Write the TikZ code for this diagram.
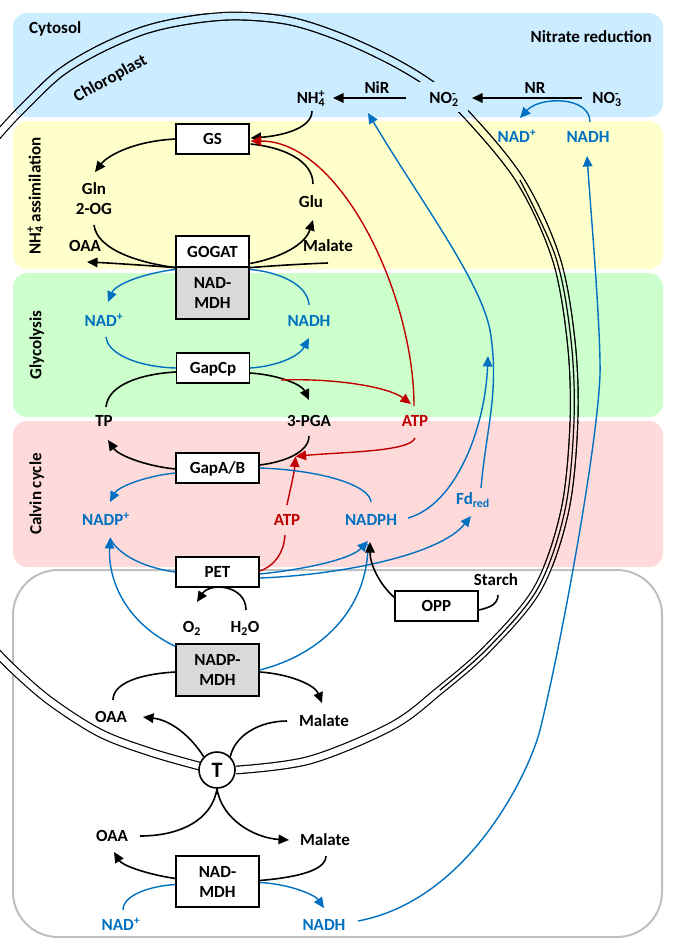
\documentclass[tikz,border=0pt]{standalone}
\usepackage{fontspec}
\setmainfont{Carlito}
\usetikzlibrary{arrows.meta,calc}
\definecolor{cytbg}{HTML}{CCECFF}
\definecolor{yelbg}{HTML}{FFFFCC}
\definecolor{grnbg}{HTML}{CCFFCC}
\definecolor{pnkbg}{HTML}{FFDADA}
\definecolor{lblue}{HTML}{0070C0}
\definecolor{lred}{HTML}{C00000}
\definecolor{boxgray}{HTML}{D9D9D9}
\definecolor{framegray}{HTML}{BFBFBF}
\newcommand\ssp[2]{\makebox[0pt][l]{\textsuperscript{#2}}\textsubscript{#1}}
\newcommand\envelope[1]{%
  \draw[env,double=#1] plot[smooth,tension=0.55] coordinates {(-15,150) (5,127) (25,106) (60,73) (100,49) (145,30) (190,20) (237,16) (290,21) (340,37) (390,60) (430,84) (465,113) (520,180) (556,258) (571,340) (574,420) (565,510) (538,588) (488,648) (440,690) (392,726) (310,760) (236,770)};
  \draw[env,double=#1] plot[smooth,tension=0.55] coordinates {(199,766) (150,752) (100,733) (50,701) (12,668) (-15,640)};}
\tikzset{
  lbl/.style={inner sep=0pt, text height=11pt, text depth=0pt},
  bl/.style={text=lblue},
  rd/.style={text=lred},
  box/.style={draw, line width=1.2pt, fill=white, minimum width=73pt, minimum height=30pt, inner sep=0pt, text height=11pt, text depth=0pt},
  wide/.style={minimum width=83pt},
  box2/.style={draw, line width=1.2pt, fill=boxgray, minimum width=73pt, minimum height=52pt, inner sep=0pt, align=center},
  con/.style={line width=1.6pt, black},
  arr/.style={con, -{Triangle[length=10.5pt,width=9.5pt]}},
  bcon/.style={line width=1.4pt, lblue},
  barr/.style={bcon, -{Triangle[length=10.5pt,width=9.5pt]}},
  rcon/.style={line width=1.4pt, lred},
  rarr/.style={rcon, -{Triangle[length=10.5pt,width=9.5pt]}},
  env/.style={draw=black, line width=1.2pt, double distance=6.4pt},
  tnode/.style={circle, draw, line width=1.6pt, fill=white, minimum size=36pt, inner sep=0pt, font=\fontsize{22}{24}\selectfont\bfseries}
}
\begin{document}
\begin{tikzpicture}[x=1pt,y=-1pt,font=\fontsize{17}{20}\selectfont\bfseries]
\useasboundingbox (0,0) rectangle (675,951);
% background bands
\fill[cytbg, rounded corners=14pt] (13,13) rectangle (663,117);
\fill[yelbg, rounded corners=14pt] (13,121) rectangle (663,269);
\fill[grnbg, rounded corners=14pt] (13,273) rectangle (663,417);
\fill[pnkbg, rounded corners=14pt] (13,421) rectangle (663,567);
\draw[framegray, line width=2pt, rounded corners=45pt] (13,570) rectangle (662,937);
% chloroplast envelope
\envelope{white}
\begin{scope}\clip[rounded corners=14pt] (13,13) rectangle (663,117); \envelope{cytbg}\end{scope}
\begin{scope}\clip[rounded corners=14pt] (13,121) rectangle (663,269); \envelope{yelbg}\end{scope}
\begin{scope}\clip[rounded corners=14pt] (13,273) rectangle (663,417); \envelope{grnbg}\end{scope}
\begin{scope}\clip[rounded corners=14pt] (13,421) rectangle (663,567); \envelope{pnkbg}\end{scope}
\draw[line width=1.2pt] plot[smooth,tension=0.55] coordinates {(520,180) (556,258) (571,340) (574,420) (565,510) (538,588) (488,648) (440,690)};
\fill[cytbg] (418,82) rectangle (468,112);
% region labels
\node[lbl, anchor=west] (cyt) at (29,28) {Cytosol};
\node[lbl, anchor=east] (nit) at (652,37) {Nitrate reduction};
\node[lbl, rotate=29] (chl) at (110,78) {Chloroplast};
\node[lbl, rotate=90] (lNH) at (35,196) {NH\ssp{4}{+} assimilation};
\node[lbl, rotate=90] (lGly) at (36,345) {Glycolysis};
\node[lbl, rotate=90] (lCal) at (36,494) {Calvin cycle};
% boxes
\node[box] (GS) at (212.5,139) {GS};
\node[box, minimum height=31pt] (GOGAT) at (212.5,251.5) {GOGAT};
\node[box2] (NADMDH1) at (212.5,293) {NAD-\\MDH};
\node[box] (GapCp) at (213,368) {GapCp};
\node[box, wide] (GapAB) at (217.5,468) {GapA/B};
\node[box, wide] (PET) at (217.5,572) {PET};
\node[box2, wide] (NADPMDH) at (217.5,670) {NADP-\\MDH};
\node[box, wide] (OPP) at (436.5,606) {OPP};
\node[box2, wide, fill=white, minimum height=51pt] (NADMDH2) at (217.5,881.5) {NAD-\\MDH};
\node[tnode] (T) at (217,770) {T};
% metabolite labels
\node[lbl] (NH4) at (311,98) {NH\ssp{4}{+}};
\node[lbl] (NiR) at (377,88) {NiR};
\node[lbl] (NO2) at (444,98) {NO\ssp{2}{-}};
\node[lbl] (NR) at (535,88) {NR};
\node[lbl] (NO3) at (607,98) {NO\ssp{3}{-}};
\node[lbl,bl] (NADp1) at (517,137) {NAD\textsuperscript{+}};
\node[lbl,bl] (NADH1) at (588,137) {NADH};
\node[lbl] (Gln) at (94,189) {Gln};
\node[lbl] (OG) at (94,209) {2-OG};
\node[lbl] (Glu) at (311,202) {Glu};
\node[lbl] (OAA1) at (85,246) {OAA};
\node[lbl] (Mal1) at (328,246) {Malate};
\node[lbl,bl] (NADp2) at (104,321) {NAD\textsuperscript{+}};
\node[lbl,bl] (NADH2) at (309,321) {NADH};
\node[lbl] (TP) at (104,421) {TP};
\node[lbl] (PGA) at (309,421) {3-PGA};
\node[lbl,rd] (ATP1) at (415,421) {ATP};
\node[lbl,bl] (NADPp) at (106,520) {NADP\textsuperscript{+}};
\node[lbl,rd] (ATP2) at (287,520) {ATP};
\node[lbl,bl] (NADPH) at (371,520) {NADPH};
\node[lbl,bl] (Fd) at (473,499) {Fd\textsubscript{red}};
\node[lbl] (Starch) at (496,580) {Starch};
\node[lbl] (O2) at (192,627) {O\textsubscript{2}};
\node[lbl] (H2O) at (245,627) {H\textsubscript{2}O};
\node[lbl] (OAA2) at (111,717) {OAA};
\node[lbl] (Mal2) at (324,721) {Malate};
\node[lbl] (OAA3) at (112,836) {OAA};
\node[lbl] (Mal3) at (325,840) {Malate};
\node[lbl,bl] (NADp3) at (121,925) {NAD\textsuperscript{+}};
\node[lbl,bl] (NADH3) at (324,925) {NADH};
\coordinate (NiRin) at (368,113);
\coordinate (NADPHx) at (488,356);
\coordinate (GapABin) at ($(GapAB.north east)+(36,4)$);
% nitrate reduction
\draw[arr] ($(NO3)+(-25,0)$) -- ($(NO2)+(28,0)$);
\draw[arr] ($(NO2)+(-38,0)$) -- ($(NH4)+(22,0)$);
\draw[barr] ($(NADH1)+(2,-15)$) .. controls (590,96) and (540,96) .. ($(NADp1)+(3,-19)$);
% NH4 assimilation
\draw[arr] ($(NH4)+(1,13)$) .. controls (312,129) and (280,136) .. ($(GS.east)+(1,-1)$);
\draw[arr] (GS.west) .. controls (135,141) and (108,155) .. ($(Gln)+(1,-17)$);
\draw[con] ($(Glu)+(2,-18)$) .. controls (313,160) and (282,147) .. ($(GS.east)+(1,5)$);
\draw[con] ($(OG)+(0,16)$) .. controls (97,250) and (140,263) .. (GOGAT.south west);
\draw[arr] (GOGAT.south west) .. controls (140,265) and (110,263) .. ($(OAA1)+(2,16)$);
\draw[con] ($(Mal1)+(0,17)$) .. controls (300,264) and (270,266) .. (GOGAT.south east);
\draw[arr] ($(GOGAT.south east)+(0,-4)$) .. controls (280,258) and (305,245) .. ($(Glu)+(2,18)$);
\draw[rarr] ($(ATP1)+(-1,-15)$) .. controls (414,295) and (341,141) .. ($(GS.east)+(1,2)$);
% glycolysis
\draw[barr] ($(NADMDH1.north west)+(0,3)$) .. controls (140,274) and (115,285) .. ($(NADp2)+(4,-19)$);
\draw[bcon] ($(NADH2)+(0,-16)$) .. controls (308,285) and (280,272) .. ($(NADMDH1.north east)+(0,3)$);
\draw[bcon] ($(NADp2)+(2,16)$) .. controls (108,355) and (140,367) .. (GapCp.west);
\draw[barr] (GapCp.east) .. controls (280,366) and (300,355) .. ($(NADH2)+(0,17)$);
\draw[con] ($(TP)+(2,-14)$) .. controls (108,385) and (140,374) .. ($(GapCp.west)+(0,4)$);
\draw[arr] ($(GapCp.east)+(0,5)$) .. controls (280,375) and (302,385) .. ($(PGA)+(0,-21)$);
\draw[rarr] ($(GapCp.east)+(31,12)$) .. controls (340,378) and (390,388) .. ($(ATP1)+(-4,-17)$);
% Calvin cycle
\draw[arr] ($(GapAB.west)+(0,1)$) .. controls (145,466) and (118,455) .. ($(TP)+(4,19)$);
\draw[con] ($(PGA)+(0,15)$) .. controls (309,452) and (285,462) .. ($(GapAB.east)+(0,-3)$);
\draw[rarr] ($(ATP1)+(0,17)$) .. controls (410,452) and (340,452) .. (GapABin);
\draw[rarr] ($(ATP2)+(0,-15)$) .. controls (290,490) and (294,475) .. (GapABin);
\draw[barr] ($(GapAB.west)+(0,5)$) .. controls (145,476) and (118,487) .. ($(NADPp)+(4,-18)$);
\draw[bcon] ($(NADPH)+(0,-18)$) .. controls (370,485) and (320,470) .. (GapAB.east);
\draw[barr] ($(NADPH)+(37,-2)$) .. controls (455,505) and (485,430) .. (NADPHx);
\draw[barr] ($(Fd)+(8,-11)$) .. controls (486,430) and (500,390) .. (490,330) .. controls (480,280) and (420,200) .. (NiRin);
% photosynthetic electron transport
\draw[bcon] (PET.west) .. controls (145,568) and (118,555) .. ($(NADPp)+(4,18)$);
\draw[barr] ($(NADPMDH.north west)+(0,3)$) .. controls (130,625) and (108,585) .. ($(NADPp)+(4,18)$);
\draw[barr] ($(PET.east)+(0,2)$) .. controls (300,570) and (350,560) .. ($(NADPH)+(-3,21)$);
\draw[barr] ($(PET.east)+(0,6)$) .. controls (340,575) and (440,555) .. ($(Fd)+(-2,17)$);
\draw[bcon] (NADPMDH.east) .. controls (320,655) and (368,610) .. ($(NADPH)+(-3,24)$);
\draw[rcon] ($(PET.east)+(0,-1)$) .. controls (275,566) and (284,552) .. ($(ATP2)+(-2,15)$);
\draw[arr] ($(OPP.north west)+(0,7)$) .. controls (380,585) and (370,565) .. ($(NADPH)+(-1,22)$);
\draw[con] ($(Starch)+(2,15)$) .. controls (498,605) and (488,608) .. ($(OPP.east)+(0,4)$);
\draw[arr] ($(H2O)+(1,-17)$) .. controls (246,585) and (210,582) .. ($(O2)+(5,-25)$);
% malate valve
\draw[con] ($(OAA2)+(2,-17)$) .. controls (113,683) and (140,674) .. ($(NADPMDH.west)+(0,2)$);
\draw[arr] ($(NADPMDH.east)+(0,2)$) .. controls (290,674) and (315,685) .. ($(Mal2)+(-2,-18)$);
\draw[arr] (T.135) .. controls (190,735) and (170,720) .. ($(OAA2)+(32,0)$);
\draw[con] ($(Mal2)+(-37,0)$) .. controls (260,721) and (235,735) .. (T.45);
\draw[con] (T.south) .. controls (212,820) and (180,836) .. ($(OAA3)+(28,0)$);
\draw[arr] (T.south) .. controls (222,820) and (255,838) .. ($(Mal3)+(-36,0)$);
\draw[arr] ($(NADMDH2.west)+(0,-3)$) .. controls (145,874) and (122,865) .. ($(OAA3)+(2,16)$);
\draw[con] ($(Mal3)+(1,16)$) .. controls (326,872) and (290,878) .. ($(NADMDH2.east)+(0,-1)$);
\draw[bcon] ($(NADp3)+(2,-15)$) .. controls (123,895) and (150,886) .. ($(NADMDH2.west)+(0,3)$);
\draw[barr] ($(NADMDH2.east)+(0,1)$) .. controls (290,884) and (315,895) .. ($(NADH3)+(0,-17)$);
\draw[barr] ($(NADH3)+(34,-4)$) .. controls (470,900) and (530,770) .. (540,730) .. controls (560,650) and (597,450) .. (600,375) .. controls (601,330) and (590,200) .. ($(NADH1)+(-1,19)$);
\end{tikzpicture}
\end{document}
